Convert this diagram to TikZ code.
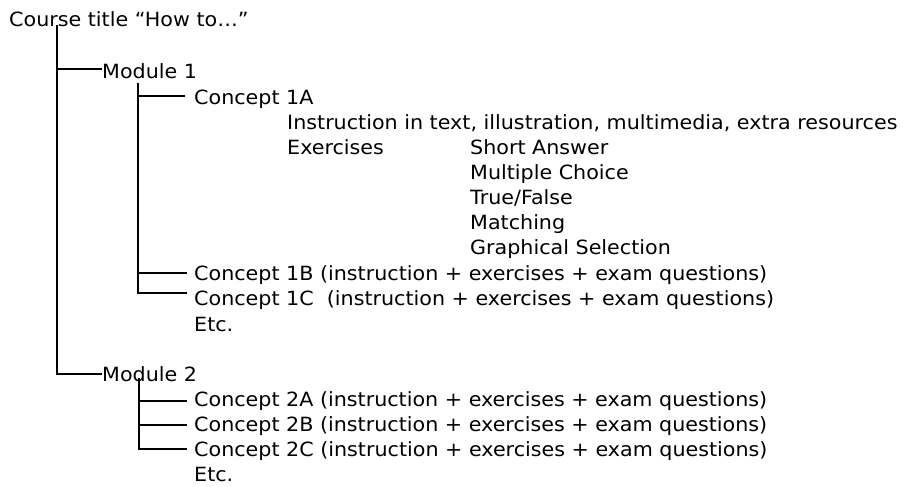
\documentclass[tikz,border=0pt]{standalone}
\usepackage{fontspec}
\setmainfont{DejaVu Sans}[FakeStretch=1.054]
\usetikzlibrary{calc}
\begin{document}
\begin{tikzpicture}[x=1pt,y=-1pt,
  txt/.style={anchor=base west,inner sep=0pt,font=\fontsize{19.6}{22}\selectfont},
  tree/.style={line width=1.1pt,black}]
\useasboundingbox (0,0) rectangle (911,487);
% texts
\node[txt] (title) at (9,27) {Course title “How to…”};
\node[txt] (m1) at (102,79) {Module 1};
\node[txt] (c1a) at (194,104) {Concept 1A};
\node[txt] (instr) at (287,129) {Instruction in text, illustration, multimedia, extra resources};
\node[txt] (ex) at (287,154) {Exercises};
\node[txt] (sa) at (470,154) {Short Answer};
\node[txt] (mc) at (470,179) {Multiple Choice};
\node[txt] (tf) at (470,204) {True/False};
\node[txt] (ma) at (470,229) {Matching};
\node[txt] (gs) at (470,254) {Graphical Selection};
\node[txt] (c1b) at (194,280) {Concept 1B (instruction + exercises + exam questions)};
\node[txt] (c1c) at (194,305) {Concept 1C\ \ (instruction + exercises + exam questions)};
\node[txt] (etc1) at (194,331) {Etc.};
\node[txt] (m2) at (102,381) {Module 2};
\node[txt] (c2a) at (194,406) {Concept 2A (instruction + exercises + exam questions)};
\node[txt] (c2b) at (194,431) {Concept 2B (instruction + exercises + exam questions)};
\node[txt] (c2c) at (194,456) {Concept 2C (instruction + exercises + exam questions)};
\node[txt] (etc2) at (194,481) {Etc.};
% junction coordinates
\coordinate (r0) at (57,25);
\coordinate (r1) at (138,83);
\coordinate (r2) at (139,378);
% connectors
\draw[tree] (r0) |- ($(m1.base west)+(0,-10)$);
\draw[tree] (r0) |- ($(m2.base west)+(0,-7)$);
\draw[tree] (r1) |- ($(c1a.base west)+(-9,-8)$);
\draw[tree] (r1) |- ($(c1b.base west)+(-7,-7)$);
\draw[tree] (r1) |- ($(c1c.base west)+(-7,-12)$);
\draw[tree] (r2) |- ($(c2a.base west)+(-7,-5)$);
\draw[tree] (r2) |- ($(c2b.base west)+(-7,-6)$);
\draw[tree] (r2) |- ($(c2c.base west)+(-7,-7)$);
\end{tikzpicture}
\end{document}
